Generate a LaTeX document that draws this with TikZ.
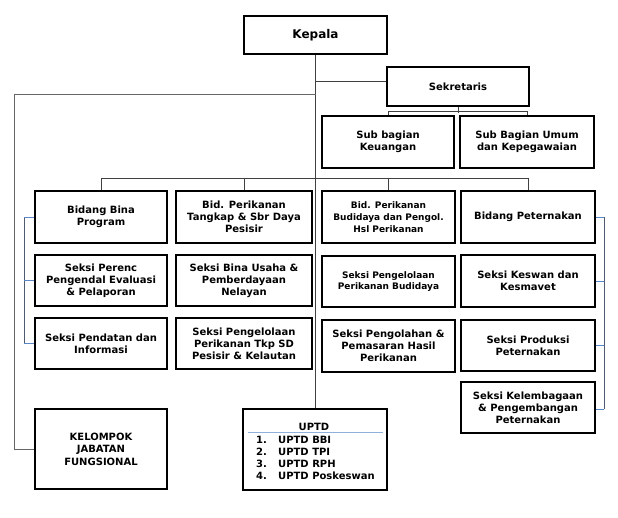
\documentclass[tikz,border=0pt]{standalone}
\usepackage{fontspec}
\setmainfont{DejaVu Sans}
\definecolor{conn}{HTML}{404040}
\definecolor{brk}{HTML}{5B86C8}
\definecolor{brkv}{HTML}{4F5B70}
\definecolor{uline}{HTML}{8FB0DA}
\begin{document}
\begin{tikzpicture}[x=1pt,y=-1pt,
  box/.style={draw=black,line width=1.7pt,align=center,inner sep=0pt,
    font=\fontsize{10}{11.8}\selectfont\bfseries},
  small/.style={font=\fontsize{9}{11.8}\selectfont\bfseries},
  cline/.style={draw=conn,line width=0.9pt},
  bline/.style={draw=brk,line width=0.9pt},
  bvline/.style={draw=brkv,line width=0.9pt},
  item/.style={anchor=west,inner sep=0pt,font=\fontsize{10}{11.8}\selectfont\bfseries}]
\useasboundingbox (0,0) rectangle (618,517);
\fill[white] (0,0) rectangle (618,517);

% top
\node[box,minimum width=143pt,minimum height=38pt,font=\fontsize{12}{14}\selectfont\bfseries] (kepala) at (315.5,35) {Kepala};
\node[box,minimum width=142pt,minimum height=39pt] (sek) at (458,86.5) {Sekretaris};
\node[box,minimum width=132pt,minimum height=52pt] (keu) at (388,142) {Sub bagian\\Keuangan};
\node[box,minimum width=134pt,minimum height=52pt] (umum) at (527,142) {Sub Bagian Umum\\dan Kepegawaian};

% column 1
\node[box,minimum width=132pt,minimum height=52pt] (b1) at (101,217) {Bidang Bina\\Program};
\node[box,minimum width=132pt,minimum height=51pt] (s11) at (101,280.5) {Seksi Perenc\\Pengendal Evaluasi\\\& Pelaporan};
\node[box,minimum width=132pt,minimum height=51pt] (s12) at (101,343.5) {Seksi Pendatan dan\\Informasi};
% column 2
\node[box,minimum width=136pt,minimum height=52pt] (b2) at (244,217) {Bid. Perikanan\\Tangkap \& Sbr Daya\\Pesisir};
\node[box,minimum width=136pt,minimum height=51pt] (s21) at (244,280.5) {Seksi Bina Usaha \&\\Pemberdayaan\\Nelayan};
\node[box,minimum width=136pt,minimum height=51pt] (s22) at (244,343.5) {Seksi Pengelolaan\\Perikanan Tkp SD\\Pesisir \& Kelautan};
% column 3
\node[box,small,minimum width=133pt,minimum height=52pt] (b3) at (388.5,217) {Bid. Perikanan\\Budidaya dan Pengol.\\Hsl Perikanan};
\node[box,small,minimum width=133pt,minimum height=51pt] (s31) at (388.5,281.5) {Seksi Pengelolaan\\Perikanan Budidaya};
\node[box,minimum width=133pt,minimum height=52pt] (s32) at (388.5,346) {Seksi Pengolahan \&\\Pemasaran Hasil\\Perikanan};
% column 4
\node[box,minimum width=134pt,minimum height=52pt] (b4) at (528,217) {Bidang Peternakan};
\node[box,minimum width=134pt,minimum height=52pt] (s41) at (528,281) {Seksi Keswan dan\\Kesmavet};
\node[box,minimum width=134pt,minimum height=51pt] (s42) at (528,345.5) {Seksi Produksi\\Peternakan};
\node[box,minimum width=134pt,minimum height=51pt] (s43) at (528,407.5) {Seksi Kelembagaan\\\& Pengembangan\\Peternakan};

% bottom
\node[box,minimum width=132pt,minimum height=80pt,font=\fontsize{10}{12.5}\selectfont\bfseries] (kel) at (101,449) {KELOMPOK\\JABATAN\\FUNGSIONAL};
\node[box,minimum width=144pt,minimum height=81pt] (uptd) at (315,449.5) {};
\node[inner sep=0pt,font=\fontsize{10}{11.8}\selectfont\bfseries] (uptdt) at (314,426.5) {UPTD};
\coordinate (ul1) at (248,432.5);
\coordinate (ul2) at (383,432.5);
\draw[uline,line width=1pt] (ul1) -- (ul2);
\node[item] (u1) at (256,440) {\makebox[22pt][l]{1.}UPTD BBI};
\node[item] (u2) at (256,452) {\makebox[22pt][l]{2.}UPTD TPI};
\node[item] (u3) at (256,464) {\makebox[22pt][l]{3.}UPTD RPH};
\node[item] (u4) at (256,476) {\makebox[22pt][l]{4.}UPTD Poskeswan};

% main connectors
\coordinate (jk) at (316,54);
\draw[cline] (kepala.south) -- (kepala.south |- uptd.north);
\coordinate (js) at (kepala.south |- 0,81);
\draw[cline] (js) -- (js -| sek.west);
\coordinate (jl) at (kepala.south |- 0,94);
\coordinate (jlc) at (14,94);
\draw[cline,draw=conn!80] (jl) -- (jlc) |- (kel.west);
% sekretaris bus
\draw[cline] (sek.south) -- ++(0,6);
\draw[cline] (keu.north) -- ++(0,-4) -| (umum.north);
% bidang bus
\draw[cline] (b1.north) -- ++(0,-12) -| (b4.north);
\draw[cline] (b2.north) -- ++(0,-12);
\draw[cline] (b3.north) -- ++(0,-12);

% brackets
\coordinate (lb1) at (24,217);
\coordinate (lb3) at (24,343.5);
\draw[bvline] (lb1) -- (lb3);
\draw[bline] (lb1) -- (b1.west);
\draw[bline] (s11.west) -- (s11.west -| lb1);
\draw[bline] (lb3) -- (s12.west);
\coordinate (rb1) at (604,217);
\coordinate (rb4) at (604,409);
\draw[bvline] (rb1) -- (rb4);
\draw[bline] (b4.east) -- (rb1);
\draw[bline] (s41.east) -- (s41.east -| rb1);
\draw[bline] (s42.east) -- (s42.east -| rb1);
\draw[bline] (s43.east |- rb4) -- (rb4);
\end{tikzpicture}
\end{document}
